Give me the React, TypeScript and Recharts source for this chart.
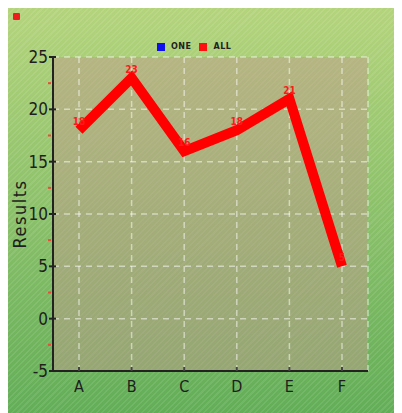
import { LineChart, Line, XAxis, YAxis, CartesianGrid, LabelList } from "recharts";

const categories = ["A", "B", "C", "D", "E", "F"];
const allValues = [18, 23, 16, 18, 21, 5];
const yTicks = [-5, -2.5, 0, 2.5, 5, 7.5, 10, 12.5, 15, 17.5, 20, 22.5, 25];
const yGridValues = [-5, 0, 5, 10, 15, 20, 25];
const legendItems = [
  { name: "ONE", color: "#1010ee" },
  { name: "ALL", color: "#ff1010" },
];

const data = categories.map((cat, i) => ({ cat, all: allValues[i] }));

const FONT = "'Liberation Sans Narrow', 'DejaVu Sans Condensed', sans-serif";

const YTick = (props: any) => {
  const { x, y, payload } = props;
  const major = Math.abs(payload.value % 5) < 0.001;
  if (!major) {
    return <line x1={x - 5} x2={x - 2} y1={y} y2={y} stroke="#e2503a" strokeWidth={2} />;
  }
  return (
    <g>
      <line x1={x - 4} x2={x + 3} y1={y} y2={y} stroke="#222" strokeWidth={2} />
      <text x={x - 5} y={y} dy="0.36em" textAnchor="end" fill="#1e1e1e" fontSize={17} fontFamily={FONT}>
        {payload.value}
      </text>
    </g>
  );
};

const XTick = (props: any) => {
  const { x, y, payload } = props;
  return (
    <g>
      <line x1={x} x2={x} y1={y - 4} y2={y} stroke="#444" strokeWidth={2} />
      <text x={x} y={y + 21} textAnchor="middle" fill="#1e1e1e" fontSize={16} fontFamily={FONT}>
        {payload.value}
      </text>
    </g>
  );
};

export default function App() {
  return (
    <div
      style={{
        position: "relative",
        width: 394,
        height: 405,
        background:
          "repeating-linear-gradient(135deg, rgba(255,255,255,0.09) 0 1.5px, rgba(255,255,255,0) 1.5px 4px), linear-gradient(#b4d47c, #62ae57)",
      }}
    >
      <div style={{ position: "absolute", left: 5, top: 5, width: 7, height: 7, background: "#ee1c1c", borderRadius: 1 }} />

      <div style={{ position: "absolute", left: 149, top: 34, display: "flex", alignItems: "center", fontFamily: "'DejaVu Sans', sans-serif", fontSize: 8, fontWeight: 700, color: "#222" }}>
        {legendItems.map(item => (
          <div key={item.name} style={{ display: "flex", alignItems: "center", marginRight: 8 }}>
            <span style={{ display: "inline-block", width: 8, height: 8, background: item.color, marginRight: 6 }} />
            <span style={{ letterSpacing: 0.5 }}>{item.name}</span>
          </div>
        ))}
      </div>

      <div
        style={{
          position: "absolute",
          left: -38,
          top: 196,
          width: 100,
          height: 20,
          lineHeight: "20px",
          textAlign: "center",
          transform: "rotate(-90deg)",
          fontFamily: FONT,
          fontSize: 18,
          letterSpacing: 1.5,
          color: "#1e1e1e",
        }}
      >
        Results
      </div>

      <LineChart width={394} height={405} data={data} margin={{ top: 49, right: 34, bottom: 12, left: 0 }} style={{ position: "absolute", left: 0, top: 0 }}>
        <CartesianGrid
          fill="#bf9c8c"
          fillOpacity={0.5}
          stroke="rgba(255,255,255,0.5)"
          strokeWidth={1.5}
          strokeDasharray="6 5"
          horizontalValues={yGridValues}
        />
        <XAxis
          dataKey="cat"
          padding={{ left: 26, right: 26 }}
          height={30}
          tickSize={0}
          tickMargin={0}
          tick={<XTick />}
          axisLine={{ stroke: "#222", strokeWidth: 2 }}
          interval={0}
        />
        <YAxis
          domain={[-5, 25]}
          ticks={yTicks}
          width={45}
          tickSize={0}
          tickMargin={0}
          tick={<YTick />}
          axisLine={{ stroke: "#222", strokeWidth: 2 }}
          interval={0}
        />
        <Line dataKey="all" stroke="none" dot={false} activeDot={false} isAnimationActive={false}>
          <LabelList dataKey="all" position="top" offset={5} fill="#ff1a1a" fontSize={10} fontWeight={700} fontFamily={FONT} />
        </Line>
        <Line
          dataKey="all"
          type="linear"
          stroke="#ff0000"
          strokeWidth={10}
          dot={false}
          activeDot={false}
          isAnimationActive={false}
        />
      </LineChart>
    </div>
  );
}
